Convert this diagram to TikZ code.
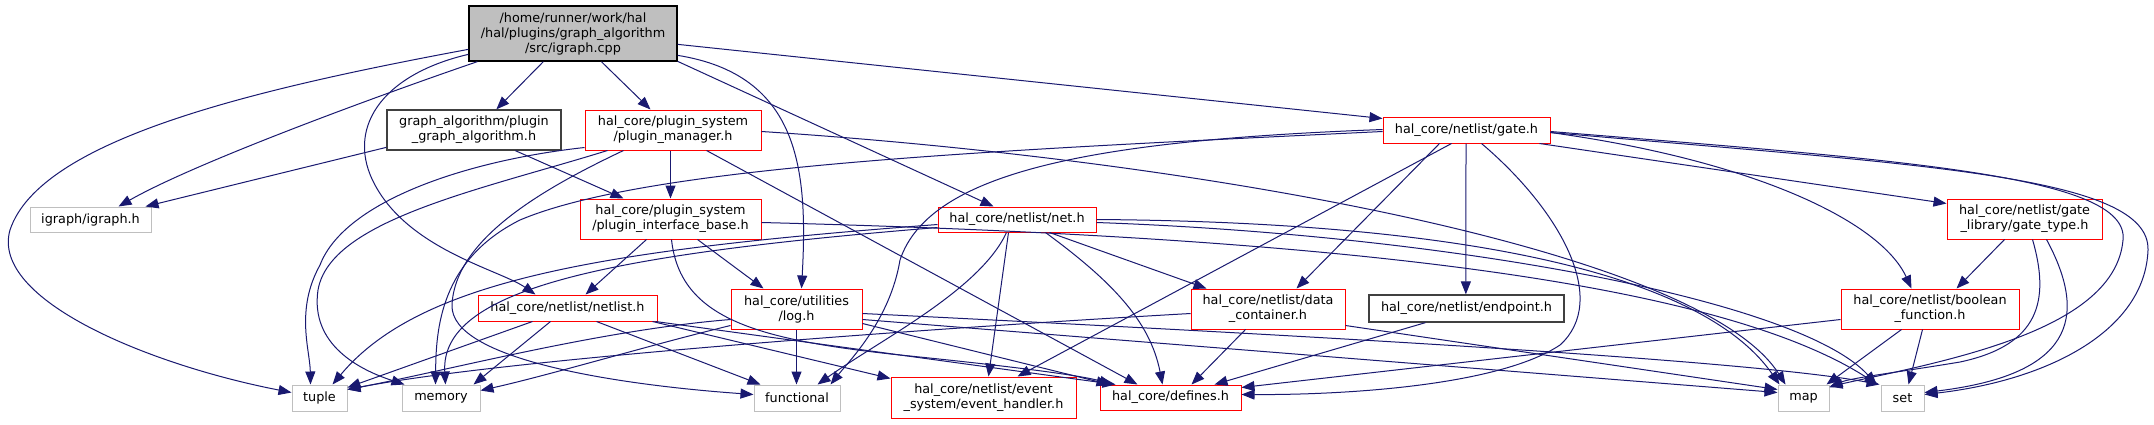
\documentclass[tikz,border=0pt]{standalone}
\usepackage{fontspec}
\setmainfont{DejaVu Sans}
\usetikzlibrary{arrows.meta}
\definecolor{hred}{RGB}{255,0,0}
\definecolor{hgray}{RGB}{191,191,191}
\definecolor{hblack}{RGB}{64,64,64}
\definecolor{hedge}{RGB}{25,25,112}
\definecolor{hfill}{RGB}{191,191,191}
\newcommand{\dfont}{\fontsize{12.8}{15}\selectfont}
\tikzset{
  box/.style={draw, fill=white, line width=1pt, inner sep=0pt, align=center, font=\dfont},
  redbox/.style={box, draw=hred},
  graybox/.style={box, draw=hgray},
  blackbox/.style={box, draw=hblack, line width=1.3pt},
  mainbox/.style={box, draw=black, fill=hfill, line width=1.3pt},
  edge/.style={draw=hedge, line width=1pt, -{Triangle[length=13pt,width=10pt]}},
}
\begin{document}
\begin{tikzpicture}[x=1pt,y=-1pt]
\fill[white] (0,0) rectangle (2154,424);
\useasboundingbox (0,0) rectangle (2154,424);

% nodes
\node[mainbox, minimum width=208pt, minimum height=55pt] (main) at (573,33.5) {/home/runner/work/hal\\/hal/plugins/graph\_algorithm\\/src/igraph.cpp};
\node[blackbox, minimum width=174pt, minimum height=40pt] (pga) at (474,130) {graph\_algorithm/plugin\\\_graph\_algorithm.h};
\node[redbox, minimum width=176pt, minimum height=40pt] (pm) at (673,130) {hal\_core/plugin\_system\\/plugin\_manager.h};
\node[graybox, minimum width=121pt, minimum height=25pt] (igraph) at (90.5,219.5) {igraph/igraph.h};
\node[redbox, minimum width=181pt, minimum height=40pt] (pib) at (670.5,219) {hal\_core/plugin\_system\\/plugin\_interface\_base.h};
\node[redbox, minimum width=158pt, minimum height=25pt] (net) at (1017,219.5) {hal\_core/netlist/net.h};
\node[redbox, minimum width=167pt, minimum height=26pt] (gate) at (1466.5,130) {hal\_core/netlist/gate.h};
\node[redbox, minimum width=155pt, minimum height=40pt] (gt) at (2024.5,219) {hal\_core/netlist/gate\\\_library/gate\_type.h};
\node[redbox, minimum width=179pt, minimum height=26pt] (netlist) at (567.5,308) {hal\_core/netlist/netlist.h};
\node[redbox, minimum width=131pt, minimum height=40pt] (log) at (796.5,309) {hal\_core/utilities\\/log.h};
\node[redbox, minimum width=154pt, minimum height=40pt] (dc) at (1268,309) {hal\_core/netlist/data\\\_container.h};
\node[blackbox, minimum width=195pt, minimum height=27pt] (ep) at (1466.5,308.5) {hal\_core/netlist/endpoint.h};
\node[redbox, minimum width=178pt, minimum height=40pt] (bf) at (1930,309) {hal\_core/netlist/boolean\\\_function.h};
\node[graybox, minimum width=55pt, minimum height=26pt] (tuple) at (319.5,398) {tuple};
\node[graybox, minimum width=78pt, minimum height=26pt] (memory) at (441,398) {memory};
\node[graybox, minimum width=86pt, minimum height=26pt] (functional) at (797,398) {functional};
\node[redbox, minimum width=185pt, minimum height=41pt] (eh) at (983.5,397.5) {hal\_core/netlist/event\\\_system/event\_handler.h};
\node[redbox, minimum width=141pt, minimum height=25pt] (defines) at (1170.5,397.5) {hal\_core/defines.h};
\node[graybox, minimum width=51pt, minimum height=26pt] (map) at (1803.5,398) {map};
\node[graybox, minimum width=43pt, minimum height=26pt] (set) at (1902.5,398) {set};

% main
\draw[edge] ([xshift=9pt]main.south west) .. controls (400,88) and (200,160) .. ([xshift=89pt]igraph.north west);
\draw[edge] ([yshift=-44pt]main.north west) .. controls (250,90) and (40,140) .. (10,230) .. controls (-10,300) and (150,365) .. ([yshift=-8pt]tuple.north west);
\draw[edge] ([xshift=75pt]main.south west) -- ([xshift=110pt]pga.north west);
\draw[edge] ([xshift=133pt]main.south west) -- ([xshift=66pt]pm.north west);
\draw[edge] ([yshift=-49pt]main.north west) .. controls (380,75) and (345,130) .. (375,185) .. controls (410,250) and (500,270) .. ([xshift=58pt]netlist.north west);
\draw[edge] ([yshift=-50pt]main.north east) .. controls (800,75) and (808,170) .. ([xshift=71pt]log.north west);
\draw[edge] ([yshift=-56pt]main.north east) -- ([xshift=56pt]net.north west);
\draw[edge] ([yshift=-39pt]main.north east) -- ([yshift=-2pt]gate.north west);

% pga
\draw[edge] ([yshift=-38pt]pga.north west) -- ([xshift=116pt]igraph.north west);
\draw[edge] ([xshift=129pt]pga.south west) -- ([xshift=44pt]pib.north west);

% pm
\draw[edge] ([xshift=86pt]pm.south west) -- ([xshift=91pt]pib.north west);
\draw[edge] ([yshift=-38pt]pm.north west) .. controls (470,160) and (345,200) .. (320,265) .. controls (295,310) and (310,350) .. ([xshift=19pt]tuple.north west);
\draw[edge] ([xshift=23pt]pm.south west) .. controls (480,190) and (330,220) .. (318,290) .. controls (310,345) and (360,370) .. ([xshift=3pt]memory.north west);
\draw[edge] ([xshift=39pt]pm.south west) .. controls (540,190) and (455,240) .. (452,305) .. controls (450,360) and (620,385) .. ([yshift=-10pt]functional.north west);
\draw[edge] ([xshift=122pt]pm.south west) -- ([xshift=38pt]defines.north west);
\draw[edge] ([yshift=-22pt]pm.north east) .. controls (1200,160) and (1700,250) .. ([xshift=8pt]map.north west);

% pib
\draw[edge] ([xshift=67pt]pib.south west) -- ([xshift=108pt]netlist.north west);
\draw[edge] ([xshift=118pt]pib.south west) -- ([xshift=33pt]log.north west);
\draw[edge] ([xshift=92pt]pib.south west) .. controls (680,320) and (760,340) .. (900,355) .. controls (1000,365) and (1080,375) .. ([xshift=13pt]defines.north west);
\draw[edge] ([yshift=-24pt]pib.north east) .. controls (1250,235) and (1700,270) .. ([xshift=-3pt]set.north west);

% netlist
\draw[edge] ([xshift=55pt]netlist.south west) -- ([yshift=-3pt]tuple.north east);
\draw[edge] ([xshift=73pt]netlist.south west) -- ([xshift=-7pt]memory.north east);
\draw[edge] ([xshift=119pt]netlist.south west) -- ([xshift=7pt]functional.north west);
\draw[edge] ([xshift=-5pt]netlist.south east) -- ([yshift=-2pt]eh.north west);
\draw[edge] ([xshift=-2pt]netlist.south east) -- ([xshift=16pt]defines.north west);

% log
\draw[edge] ([yshift=-31pt]log.north west) .. controls (600,330) and (450,370) .. ([yshift=-5pt]tuple.north east);
\draw[edge] ([yshift=-37pt]log.north west) .. controls (650,345) and (550,375) .. ([yshift=-6pt]memory.north east);
\draw[edge] ([xshift=66pt]log.south west) -- ([xshift=43pt]functional.north west);
\draw[edge] ([yshift=-35pt]log.north east) -- ([xshift=10pt]defines.north west);
\draw[edge] ([yshift=-31pt]log.north east) -- ([yshift=-8pt]map.north west);
\draw[edge] ([yshift=-25pt]log.north east) .. controls (1300,335) and (1750,360) .. ([xshift=-1pt]set.north west);

% net
\draw[edge] ([xshift=71pt]net.south west) -- ([xshift=98pt]eh.north west);
\draw[edge] ([xshift=69pt]net.south west) .. controls (980,290) and (880,340) .. ([xshift=64pt]functional.north west);
\draw[edge] ([xshift=108pt]net.south west) .. controls (1110,280) and (1150,320) .. ([xshift=63pt]defines.north west);
\draw[edge] ([xshift=112pt]net.south west) -- ([xshift=16pt]dc.north west);
\draw[edge] ([yshift=-13pt]net.north east) .. controls (1450,222) and (1700,270) .. ([xshift=2pt]map.north west);
\draw[edge] ([yshift=-16pt]net.north east) .. controls (1450,235) and (1800,300) .. ([xshift=-4pt]set.north west);
\draw[edge] ([yshift=-18pt]net.north west) .. controls (600,250) and (420,280) .. ([xshift=41pt]tuple.north west);
\draw[edge] ([yshift=-21pt]net.north west) .. controls (600,255) and (440,290) .. ([xshift=44pt]memory.north west);

% gate
\draw[edge] ([yshift=-15pt]gate.north west) .. controls (1000,150) and (650,165) .. (520,220) .. controls (440,260) and (436,330) .. ([xshift=34pt]memory.north west);
\draw[edge] ([yshift=-13pt]gate.north west) .. controls (1100,140) and (930,170) .. (900,260) .. controls (890,320) and (850,360) .. ([xshift=77pt]functional.north west);
\draw[edge] ([xshift=69pt]gate.south west) -- ([xshift=127pt]eh.north west);
\draw[edge] ([xshift=57pt]gate.south west) -- ([xshift=106pt]dc.north west);
\draw[edge] ([xshift=83.5pt]gate.south west) -- ([xshift=97.5pt]ep.north west);
\draw[edge] ([xshift=99pt]gate.south west) .. controls (1560,210) and (1610,300) .. (1560,345) .. controls (1500,385) and (1350,395) .. ([yshift=-10pt]defines.north east);
\draw[edge] ([xshift=157pt]gate.south west) -- ([yshift=-5pt]gt.north west);
\draw[edge] ([yshift=-16pt]gate.north east) .. controls (1750,160) and (1880,220) .. ([xshift=71pt]bf.north west);
\draw[edge] ([yshift=-15pt]gate.north east) .. controls (1900,160) and (2130,175) .. (2123,240) .. controls (2115,330) and (1950,360) .. ([yshift=-2pt]map.north east);
\draw[edge] ([yshift=-16pt]gate.north east) .. controls (1920,165) and (2150,175) .. (2148,250) .. controls (2145,330) and (2050,380) .. ([yshift=-10pt]set.north east);

% gate_type
\draw[edge] ([xshift=58pt]gt.south west) -- ([xshift=116pt]bf.north west);
\draw[edge] ([xshift=86pt]gt.south west) .. controls (2050,300) and (2040,345) .. (1960,362) .. controls (1900,372) and (1850,378) .. ([yshift=-3pt]map.north east);
\draw[edge] ([xshift=100pt]gt.south west) .. controls (2090,320) and (2070,375) .. ([yshift=-8pt]set.north east);

% boolean_function
\draw[edge] ([xshift=61pt]bf.south west) -- ([xshift=-3pt]map.north east);
\draw[edge] ([xshift=82pt]bf.south west) -- ([xshift=28pt]set.north west);
\draw[edge] ([yshift=-31pt]bf.north west) -- ([yshift=-3pt]defines.north east);

% data_container
\draw[edge] ([yshift=-25pt]dc.north west) .. controls (900,330) and (500,360) .. ([yshift=-5pt]tuple.north east);
\draw[edge] ([xshift=55pt]dc.south west) -- ([xshift=92pt]defines.north west);
\draw[edge] ([yshift=-37pt]dc.north east) -- ([yshift=-5pt]map.north west);

% endpoint
\draw[edge] ([xshift=57pt]ep.south west) -- ([xshift=115pt]defines.north west);
\end{tikzpicture}
\end{document}
